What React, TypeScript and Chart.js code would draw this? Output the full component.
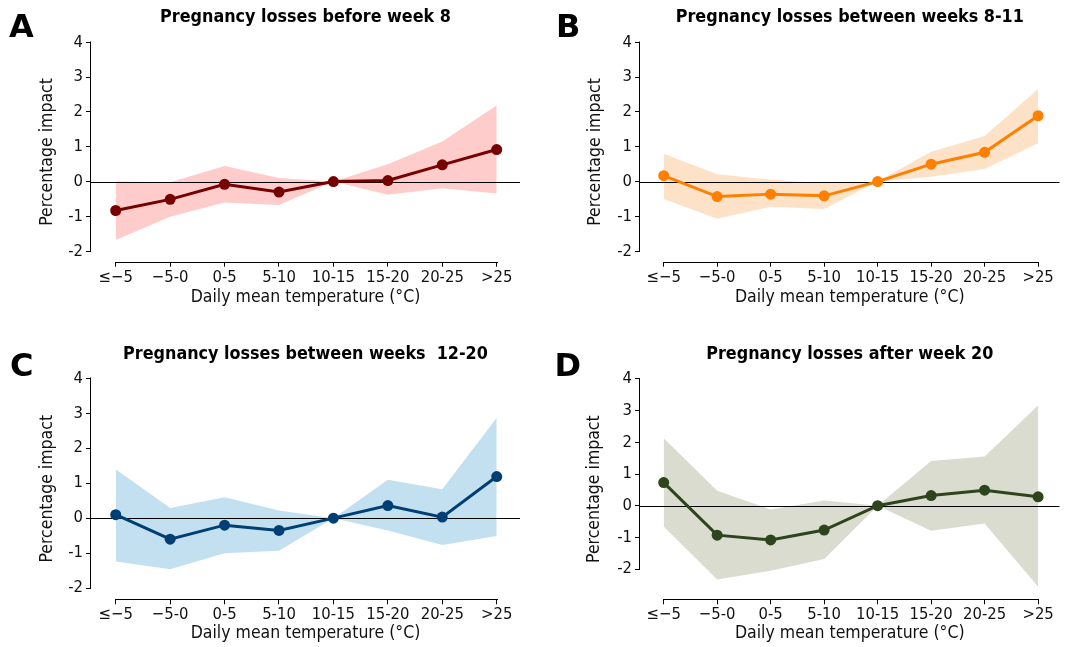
import React, { useEffect, useRef } from 'react';
import { Chart, registerables } from 'chart.js';

Chart.register(...registerables);

// ---- data ----
const categories = ['≤−5', '−5-0', '0-5', '5-10', '10-15', '15-20', '20-25', '>25'];
const yTickValues = [-2, -1, 0, 1, 2, 3, 4];

const titleA = 'Pregnancy losses before week 8';
const estA = [-0.83, -0.51, -0.08, -0.3, 0, 0.03, 0.48, 0.92];
const upperA = [0.0, -0.02, 0.45, 0.1, 0, 0.5, 1.15, 2.19];
const lowerA = [-1.68, -1.01, -0.6, -0.67, 0, -0.38, -0.19, -0.34];

const titleB = 'Pregnancy losses between weeks 8-11';
const estB = [0.17, -0.43, -0.36, -0.41, 0, 0.5, 0.84, 1.89];
const upperB = [0.8, 0.21, 0.05, -0.05, 0, 0.86, 1.31, 2.66];
const lowerB = [-0.5, -1.07, -0.72, -0.79, 0, 0.14, 0.36, 1.1];

const titleC = 'Pregnancy losses between weeks  12-20';
const estC = [0.1, -0.6, -0.2, -0.35, 0, 0.36, 0.03, 1.19];
const upperC = [1.4, 0.29, 0.6, 0.22, 0, 1.1, 0.83, 2.87];
const lowerC = [-1.24, -1.46, -1.0, -0.93, 0, -0.35, -0.77, -0.51];

const titleD = 'Pregnancy losses after week 20';
const estD = [0.73, -0.93, -1.08, -0.77, 0, 0.32, 0.49, 0.28];
const upperD = [2.13, 0.47, -0.12, 0.16, 0, 1.41, 1.55, 3.16];
const lowerD = [-0.66, -2.33, -2.05, -1.68, 0, -0.79, -0.56, -2.56];

const xTitle = 'Daily mean temperature (°C)';
const yTitle = 'Percentage impact';

const FONT = "'DejaVu Sans Condensed', 'Noto Sans', sans-serif";

type PanelCfg = {
  letter: string;
  title: string;
  est: number[];
  upper: number[];
  lower: number[];
  line: string;
  band: string;
  left: number;
  top: number;
  width: number;
  height: number;
  yWidth: number;
  yTitlePad: number;
  titlePadTop: number;
  titlePadBottom: number;
  xHeight: number;
  padBottom: number;
  padRight: number;
  xMin: number;
  xMax: number;
  yMin: number;
  letterLeft: number;
  letterTop: number;
};

const axesPlugin = {
  id: 'customAxes',
  afterDatasetDraw(chart: any, args: any) {
    if (args.index !== 1) return;
    const { ctx, chartArea } = chart;
    const y = chart.scales.y;
    const py = Math.round(y.getPixelForValue(0)) + 0.5;
    ctx.save();
    ctx.strokeStyle = '#000';
    ctx.lineWidth = 1;
    ctx.beginPath();
    ctx.moveTo(chartArea.left, py);
    ctx.lineTo(chartArea.right, py);
    ctx.stroke();
    ctx.restore();
  },
  afterDraw(chart: any) {
    const { ctx, chartArea } = chart;
    const x = chart.scales.x;
    const y = chart.scales.y;
    ctx.save();
    ctx.strokeStyle = '#000';
    ctx.lineWidth = 1;
    const lx = Math.round(chartArea.left) - 0.5;
    ctx.beginPath();
    ctx.moveTo(lx, Math.round(y.getPixelForValue(yTickValues[yTickValues.length - 1])) - 0.5);
    ctx.lineTo(lx, Math.round(y.getPixelForValue(yTickValues[0])) + 0.5);
    ctx.stroke();
    const by = Math.round(chartArea.bottom) + 0.5;
    ctx.beginPath();
    ctx.moveTo(Math.round(x.getPixelForValue(0)), by);
    ctx.lineTo(Math.round(x.getPixelForValue(categories.length - 1)) + 1, by);
    ctx.stroke();
    ctx.restore();
  },
};

function Panel({ cfg }: { cfg: PanelCfg }) {
  const ref = useRef<HTMLCanvasElement | null>(null);
  useEffect(() => {
    if (!ref.current) return;
    const pts = (arr: number[]) => arr.map((v, i) => ({ x: i, y: v }));
    const chart = new Chart(ref.current, {
      type: 'line',
      data: {
        datasets: [
          {
            data: pts(cfg.est),
            borderColor: cfg.line,
            backgroundColor: cfg.line,
            borderWidth: 3,
            pointRadius: 5.5,
            pointBorderWidth: 0,
            pointBackgroundColor: cfg.line,
            tension: 0,
            fill: false,
          },
          {
            data: pts(cfg.upper),
            borderWidth: 0,
            borderColor: 'rgba(0,0,0,0)',
            pointRadius: 0,
            backgroundColor: cfg.band,
            tension: 0,
            fill: '+1',
          },
          {
            data: pts(cfg.lower),
            borderWidth: 0,
            borderColor: 'rgba(0,0,0,0)',
            pointRadius: 0,
            backgroundColor: cfg.band,
            tension: 0,
            fill: false,
          },
        ],
      },
      options: {
        responsive: false,
        animation: false,
        events: [],
        layout: {
          padding: { left: 0, top: 0, right: cfg.padRight, bottom: cfg.padBottom },
        },
        plugins: {
          legend: { display: false },
          tooltip: { enabled: false },
          title: {
            display: true,
            text: cfg.title,
            fullSize: false,
            color: '#000',
            font: { family: FONT, size: 17.8, weight: 'bold' },
            padding: { top: cfg.titlePadTop, bottom: cfg.titlePadBottom },
          },
        },
        scales: {
          x: {
            type: 'linear',
            min: cfg.xMin,
            max: cfg.xMax,
            afterBuildTicks: (s: any) => {
              s.ticks = categories.map((_, i) => ({ value: i }));
            },
            afterFit: (s: any) => {
              s.height = cfg.xHeight;
            },
            ticks: {
              autoSkip: false,
              maxRotation: 0,
              minRotation: 0,
              padding: 0.8,
              color: '#111',
              font: { family: FONT, size: 16.5 },
              callback: (_v: any, i: number) => categories[i],
            },
            grid: { drawOnChartArea: false, drawTicks: true, tickLength: 5, color: '#000' },
            border: { display: false },
            title: {
              display: true,
              text: xTitle,
              color: '#111',
              font: { family: FONT, size: 17.5 },
              padding: { top: 0, bottom: 0 },
            },
          },
          y: {
            type: 'linear',
            min: cfg.yMin,
            max: 4,
            afterBuildTicks: (s: any) => {
              s.ticks = yTickValues.map((v) => ({ value: v }));
            },
            afterFit: (s: any) => {
              s.width = cfg.yWidth;
            },
            ticks: {
              padding: 3,
              color: '#111',
              font: { family: FONT, size: 16.5 },
              callback: (v: any) => String(v),
            },
            grid: { drawOnChartArea: false, drawTicks: true, tickLength: 5, color: '#000' },
            border: { display: false },
            title: {
              display: true,
              text: yTitle,
              color: '#111',
              font: { family: FONT, size: 17.5 },
              padding: { top: cfg.yTitlePad, bottom: 0 },
            },
          },
        },
      },
      plugins: [axesPlugin],
    } as any);
    return () => chart.destroy();
  }, [cfg]);

  return (
    <>
      <canvas
        ref={ref}
        width={cfg.width}
        height={cfg.height}
        style={{ position: 'absolute', left: cfg.left, top: cfg.top, width: cfg.width, height: cfg.height }}
      />
      <div
        style={{
          position: 'absolute',
          left: cfg.letterLeft,
          top: cfg.letterTop,
          fontFamily: "'DejaVu Sans', sans-serif",
          fontWeight: 'bold',
          fontSize: 32,
          lineHeight: 1,
          color: '#000',
        }}
      >
        {cfg.letter}
      </div>
    </>
  );
}

const panels: PanelCfg[] = [
  {
    letter: 'A', title: titleA, est: estA, upper: upperA, lower: lowerA,
    line: '#770000', band: '#ffcccc',
    left: 0, top: 0, width: 530, height: 318,
    yWidth: 91, yTitlePad: 36.8, titlePadTop: 6.6, titlePadBottom: 14.3,
    xHeight: 46.5, padBottom: 9.8, padRight: 10,
    xMin: -0.454, xMax: 7.428, yMin: -2.3,
    letterLeft: 9, letterTop: 9.5,
  },
  {
    letter: 'B', title: titleB, est: estB, upper: upperB, lower: lowerB,
    line: '#ff7f00', band: '#fde2c8',
    left: 530, top: 0, width: 535, height: 318,
    yWidth: 110, yTitlePad: 55.3, titlePadTop: 6.6, titlePadBottom: 14.3,
    xHeight: 46.5, padBottom: 9.8, padRight: 0,
    xMin: -0.443, xMax: 7.4, yMin: -2.3,
    letterLeft: 556, letterTop: 9.5,
  },
  {
    letter: 'C', title: titleC, est: estC, upper: upperC, lower: lowerC,
    line: '#003f73', band: '#c3e0f0',
    left: 0, top: 320, width: 530, height: 327,
    yWidth: 91, yTitlePad: 36.8, titlePadTop: 23.6, titlePadBottom: 13.3,
    xHeight: 44.5, padBottom: 3.2, padRight: 10,
    xMin: -0.454, xMax: 7.428, yMin: -2.32,
    letterLeft: 10, letterTop: 348.5,
  },
  {
    letter: 'D', title: titleD, est: estD, upper: upperD, lower: lowerD,
    line: '#2e441d', band: '#d9dccf',
    left: 530, top: 320, width: 535, height: 327,
    yWidth: 110, yTitlePad: 54.3, titlePadTop: 23.6, titlePadBottom: 14.0,
    xHeight: 44.5, padBottom: 3.2, padRight: 0,
    xMin: -0.443, xMax: 7.4, yMin: -2.955,
    letterLeft: 554.5, letterTop: 348.5,
  },
];

export default function App() {
  return (
    <div
      style={{
        position: 'absolute',
        left: 0,
        top: 0,
        width: 1065,
        height: 647,
        overflow: 'hidden',
        background: '#fff',
      }}
    >
      {panels.map((p) => (
        <Panel key={p.letter} cfg={p} />
      ))}
    </div>
  );
}
